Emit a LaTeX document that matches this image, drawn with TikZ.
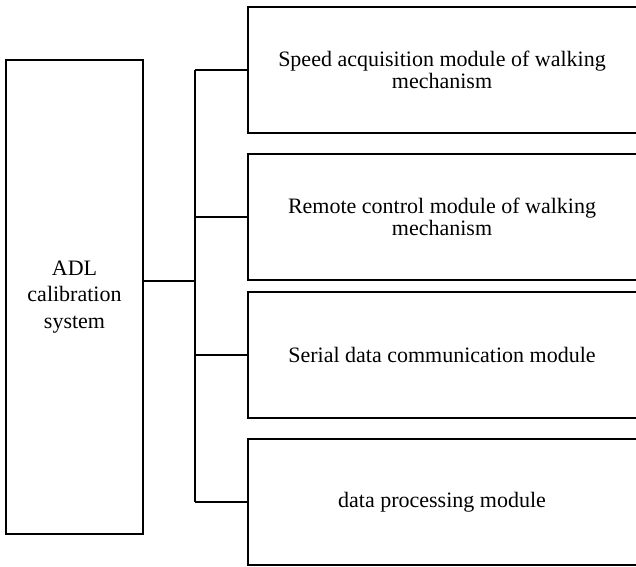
\documentclass[tikz,border=0pt]{standalone}
\usepackage{fontspec}
\setmainfont{Liberation Serif}
\begin{document}
\begin{tikzpicture}[x=1pt,y=-1pt,
  line/.style={line width=2pt,black},
  sysbox/.style={draw,line width=2pt,minimum width=137pt,minimum height=474pt,
    inner sep=0pt,align=center,font=\fontsize{22}{26.5}\selectfont},
  modbox/.style={minimum width=388pt,minimum height=126pt,inner sep=0pt,align=center,
    font=\fontsize{22}{22}\selectfont}]
\useasboundingbox (0,0) rectangle (636,566);

% main system block
\node[sysbox] (sys) at (74.5,297) {ADL\\calibration\\system};

% module blocks (open on the right side)
\node[modbox] (m1) at (442,70) {Speed acquisition module of walking\\mechanism};
\node[modbox] (m2) at (442,217) {Remote control module of walking\\mechanism};
\node[modbox] (m3) at (442,355) {Serial data communication module};
\node[modbox] (m4) at (442,502) {data processing module};

\foreach \m in {m1,m2,m3,m4}{
  \draw[line] (\m.north east) -- (\m.north west) -- (\m.south west) -- (\m.south east);
}

% distribution bus
\coordinate (j) at (195,281);
\coordinate (bt) at (195,70);
\coordinate (bb) at (195,502);
\draw[line] (sys.east |- j) -- (j);
\draw[line] (bt |- m1.west) -- (bb |- m4.west);
\foreach \m in {m1,m2,m3,m4}{
  \draw[line] (bt |- \m.west) -- (\m.west);
}
\end{tikzpicture}
\end{document}
